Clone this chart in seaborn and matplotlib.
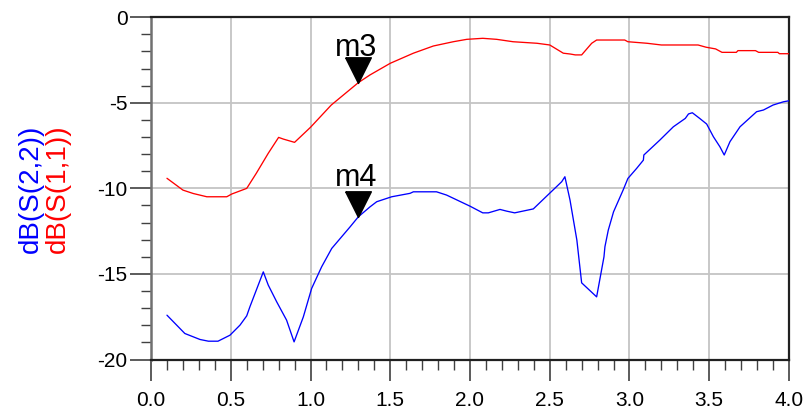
import numpy as np
import pandas as pd
import matplotlib
matplotlib.use("Agg")
import matplotlib.pyplot as plt
import seaborn as sns
from matplotlib.ticker import MultipleLocator

# ---- data ----
freq_s11 = [0.1, 0.2, 0.265, 0.35, 0.475, 0.506, 0.6, 0.66, 0.735, 0.8, 0.83, 0.9, 1.0,
            1.13, 1.3, 1.373, 1.5, 1.645, 1.77, 1.895, 1.98, 2.08, 2.167, 2.27, 2.42, 2.5,
            2.585, 2.63, 2.66, 2.70, 2.763, 2.794, 2.97, 2.99, 3.11, 3.2, 3.43, 3.48, 3.54,
            3.58, 3.67, 3.68, 3.79, 3.81, 3.93, 3.94, 4.0]
db_s11 = [-9.41, -10.1, -10.3, -10.49, -10.49, -10.33, -10.0, -9.12, -7.95, -7.02, -7.12,
          -7.31, -6.43, -5.13, -3.82, -3.37, -2.69, -2.1, -1.68, -1.43, -1.29, -1.23, -1.29,
          -1.43, -1.52, -1.62, -2.1, -2.15, -2.2, -2.2, -1.52, -1.33, -1.33, -1.43, -1.52,
          -1.62, -1.62, -1.75, -1.85, -2.05, -2.05, -1.95, -1.95, -2.05, -2.05, -2.13, -2.13]

freq_s22 = [0.1, 0.212, 0.307, 0.36, 0.42, 0.495, 0.558, 0.6, 0.62, 0.704, 0.735, 0.788,
            0.85, 0.897, 0.955, 1.007, 1.07, 1.133, 1.248, 1.3, 1.373, 1.415, 1.509, 1.624,
            1.645, 1.79, 1.853, 2.0, 2.08, 2.115, 2.188, 2.23, 2.28, 2.397, 2.575, 2.595,
            2.627, 2.67, 2.70, 2.794, 2.84, 2.846, 2.867, 2.9, 2.96, 2.99, 3.045, 3.087,
            3.09, 3.19, 3.275, 3.35, 3.37, 3.394, 3.44, 3.484, 3.526, 3.567, 3.594, 3.63,
            3.693, 3.797, 3.84, 3.9, 3.965, 4.0]
db_s22 = [-17.41, -18.48, -18.83, -18.93, -18.93, -18.58, -17.99, -17.45, -16.92, -14.88,
          -15.65, -16.63, -17.70, -18.97, -17.51, -15.85, -14.58, -13.51, -12.25, -11.66,
          -11.08, -10.78, -10.49, -10.29, -10.2, -10.2, -10.39, -11.04, -11.43, -11.43,
          -11.23, -11.33, -11.43, -11.2, -9.61, -9.32, -10.68, -13.02, -15.52, -16.34,
          -14.0, -13.41, -12.44, -11.37, -10.1, -9.42, -8.83, -8.35, -8.05, -7.18, -6.40,
          -5.91, -5.65, -5.58, -5.91, -6.24, -6.98, -7.57, -8.05, -7.27, -6.40, -5.52,
          -5.42, -5.13, -4.94, -4.88]

marker_names = ["m3", "m4"]
marker_freq = [1.3, 1.3]
marker_db = [-3.82, -11.66]

x_ticks = [0.0, 0.5, 1.0, 1.5, 2.0, 2.5, 3.0, 3.5, 4.0]
x_tick_labels = ["0.0", "0.5", "1.0", "1.5", "2.0", "2.5", "3.0", "3.5", "4.0"]
y_ticks = [-20, -15, -10, -5, 0]
y_tick_labels = ["-20", "-15", "-10", "-5", "0"]

# ---- style ----
sns.set_style("white")
plt.rcParams["font.family"] = ["Liberation Sans", "DejaVu Sans"]
plt.rcParams["axes.unicode_minus"] = False

fig = plt.figure(figsize=(8.05, 4.11), dpi=100)
ax = fig.add_axes([0.1876, 0.1253, 0.7925, 0.8327])

df11 = pd.DataFrame({"f": freq_s11, "db": db_s11})
df22 = pd.DataFrame({"f": freq_s22, "db": db_s22})
sns.lineplot(data=df11, x="f", y="db", ax=ax, color="#ff0000", lw=0.95,
             sort=False, estimator=None, zorder=3)
sns.lineplot(data=df22, x="f", y="db", ax=ax, color="#0000ff", lw=0.95,
             sort=False, estimator=None, zorder=3)

ax.set_xlim(0, 4.0)
ax.set_ylim(-20, 0)
ax.set_xticks(x_ticks)
ax.set_xticklabels(x_tick_labels)
ax.set_yticks(y_ticks)
ax.set_yticklabels(y_tick_labels)
ax.xaxis.set_minor_locator(MultipleLocator(0.1))
ax.yaxis.set_minor_locator(MultipleLocator(1))
ax.set_xlabel("")
ax.set_ylabel("")

ax.grid(True, which="major", color="#c4c4c4", lw=1.3, zorder=0)
ax.tick_params(axis="both", which="major", direction="out", length=15, width=1.2,
               color="#404040", labelsize=15, labelcolor="black", bottom=True, left=True)
ax.tick_params(axis="x", which="major", pad=7.5)
ax.tick_params(axis="y", which="major", pad=2)
ax.tick_params(axis="both", which="minor", direction="out", length=7.5, width=1.0,
               color="#404040", bottom=True, left=True)

for side in ["top", "right", "bottom"]:
    ax.spines[side].set_color("#202020")
    ax.spines[side].set_linewidth(1.6)
ax.spines["left"].set_color("#707070")
ax.spines["left"].set_linewidth(1.8)

# markers: downward triangle with tip at the data point
tri = [(-1, 2), (1, 2), (0, 0), (-1, 2)]
label_offsets = [19.0, 22.5]
for name, fx, fy, off in zip(marker_names, marker_freq, marker_db, label_offsets):
    ax.plot([fx], [fy], marker=tri, markersize=37, color="black", ls="none", zorder=5,
            clip_on=False)
    ax.annotate(name, (fx, fy), xytext=(-1.5, off), textcoords="offset points",
                ha="center", va="baseline", fontsize=22, color="black", zorder=6)

# two-coloured y label
fig.text(30.5 / 805, 1 - 188.5 / 411, "dB(S(2,2))", rotation=90, color="#0000ff",
         fontsize=20, ha="center", va="center")
fig.text(57.5 / 805, 1 - 188.5 / 411, "dB(S(1,1))", rotation=90, color="#ff0000",
         fontsize=20, ha="center", va="center")

fig.savefig("out.png", dpi=100)
